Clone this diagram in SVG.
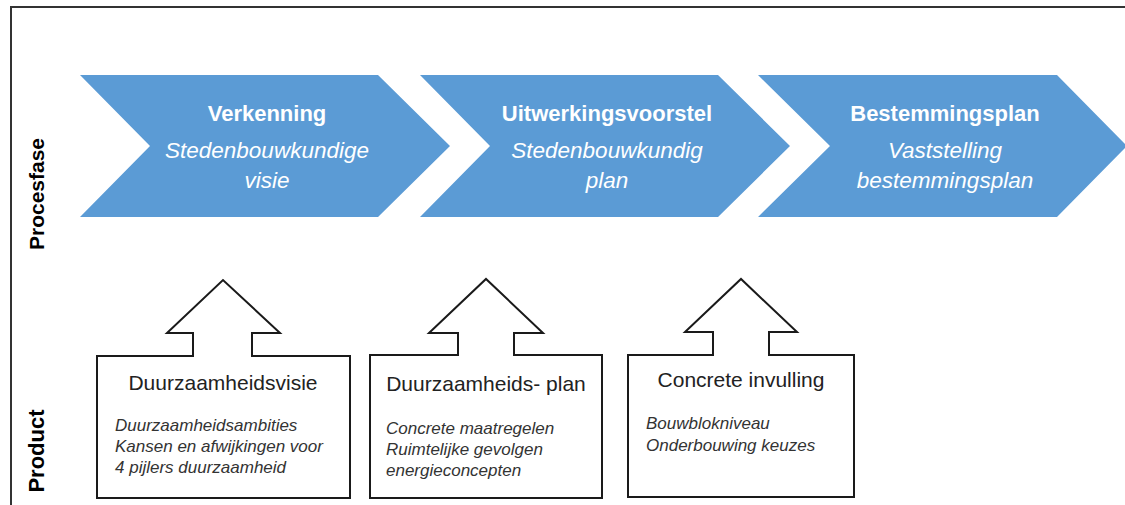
<svg xmlns="http://www.w3.org/2000/svg" width="1125" height="505" viewBox="0 0 1125 505">
<style>
.chev{fill:#5b9bd5;}
.ct{font-family:"Liberation Sans",Arial,sans-serif;font-weight:bold;font-size:22px;fill:#ffffff;text-anchor:middle;}
.cs{font-family:"Liberation Sans",Arial,sans-serif;font-style:italic;font-size:22.5px;fill:#ffffff;text-anchor:middle;}
.box{fill:#ffffff;stroke:#1a1a1a;stroke-width:2;stroke-linejoin:miter;}
.bt{font-family:"Liberation Sans",Arial,sans-serif;font-size:21px;fill:#222222;text-anchor:middle;}
.bs{font-family:"Liberation Sans",Arial,sans-serif;font-style:italic;font-size:17px;fill:#333333;}
.lab{font-family:"Liberation Sans",Arial,sans-serif;font-weight:bold;font-size:21px;fill:#000000;text-anchor:middle;}
</style>
<rect width="1125" height="505" fill="#ffffff"/>
<g id="frame">
<path d="M11,506 L11,7 L1126,7" fill="none" stroke="#333333" stroke-width="2"/>
</g>
<g id="label-procesfase"><text class="lab" transform="translate(44,194) rotate(-90)">Procesfase</text></g>
<g id="label-product"><text class="lab" transform="translate(44,451) rotate(-90)" style="font-size:22px">Product</text></g>
<g id="phase-verkenning">
<polygon class="chev" points="80,75 378,75 450,146 378,217 80,217 150,146"/>
<text class="ct" x="267" y="121">Verkenning</text>
<text class="cs" x="267" y="158">Stedenbouwkundige</text>
<text class="cs" x="267" y="188">visie</text>
</g>
<g id="phase-uitwerkingsvoorstel">
<polygon class="chev" points="420,75 718,75 790,146 718,217 420,217 490,146"/>
<text class="ct" x="607" y="121">Uitwerkingsvoorstel</text>
<text class="cs" x="607" y="158">Stedenbouwkundig</text>
<text class="cs" x="607" y="188">plan</text>
</g>
<g id="phase-bestemmingsplan">
<polygon class="chev" points="758,75 1057,75 1127,146 1057,217 758,217 830,146"/>
<text class="ct" x="945" y="121">Bestemmingsplan</text>
<text class="cs" x="945" y="158">Vaststelling</text>
<text class="cs" x="945" y="188">bestemmingsplan</text>
</g>
<g id="connectors"></g>
<g id="product-duurzaamheidsvisie">
<path class="box" d="M97,356 L193,356 L193,333 L167,333 L223,280 L280,333 L252,333 L252,356 L350,356 L350,498 L97,498 Z"/>
<text class="bt" x="223" y="390">Duurzaamheidsvisie</text>
<text class="bs" x="115" y="431">Duurzaamheidsambities</text>
<text class="bs" x="115" y="452">Kansen en afwijkingen voor</text>
<text class="bs" x="115" y="473">4 pijlers duurzaamheid</text>
</g>
<g id="product-duurzaamheidsplan">
<path class="box" d="M370,355 L458,355 L458,333 L429,333 L486,279 L543,333 L514,333 L514,355 L602,355 L602,498 L370,498 Z"/>
<text class="bt" x="486" y="391">Duurzaamheids- plan</text>
<text class="bs" x="386" y="434">Concrete maatregelen</text>
<text class="bs" x="386" y="455">Ruimtelijke gevolgen</text>
<text class="bs" x="386" y="476">energieconcepten</text>
</g>
<g id="product-concrete-invulling">
<path class="box" d="M628,355 L713,355 L713,332 L685,332 L741,279 L797,332 L769,332 L769,355 L854,355 L854,497 L628,497 Z"/>
<text class="bt" x="741" y="387">Concrete invulling</text>
<text class="bs" x="646" y="429">Bouwblokniveau</text>
<text class="bs" x="646" y="451">Onderbouwing keuzes</text>
</g>
</svg>
